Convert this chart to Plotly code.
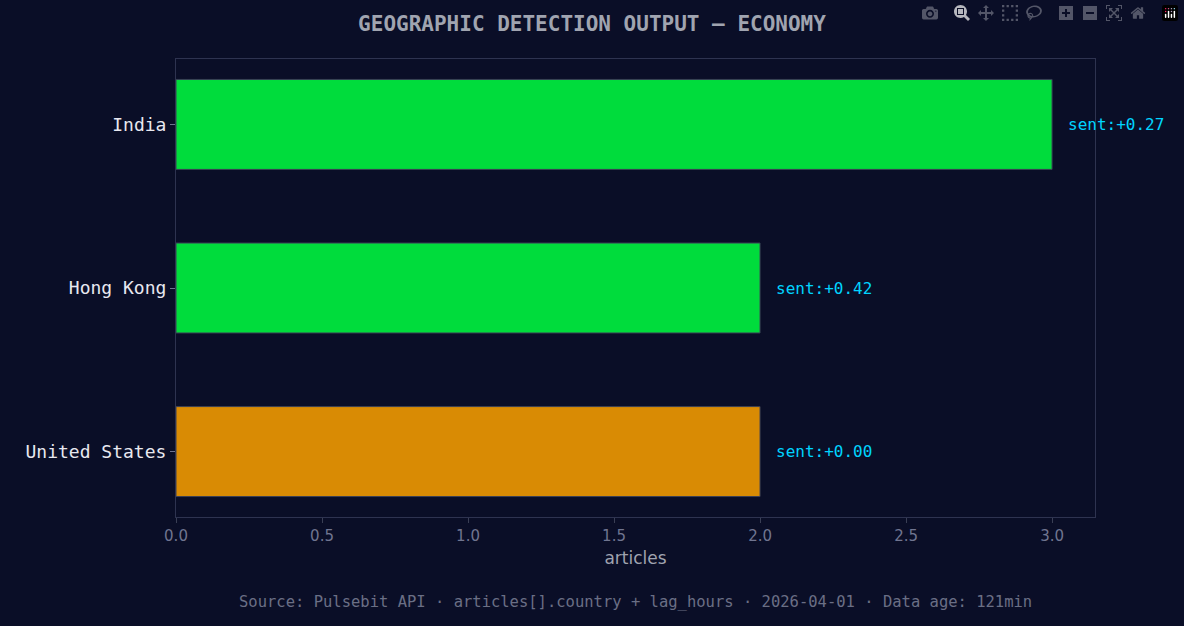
import plotly.graph_objects as go

countries = ["United States", "Hong Kong", "India"]
articles = [2, 2, 3]
sentiment = [0.00, 0.42, 0.27]
colors = ["#d98b04", "#00dc3c", "#00dc3c"]

fig = go.Figure(go.Bar(
    x=articles, y=countries, orientation="h", width=0.55,
    marker=dict(color=colors, line=dict(color="#3a3f55", width=1)),
    hoverinfo="skip"))

for c, a, s in zip(countries, articles, sentiment):
    fig.add_annotation(x=a, y=c, text=f"sent:{s:+.2f}", showarrow=False,
                       xanchor="left", xshift=14,
                       font=dict(family="DejaVu Sans Mono", size=16, color="#00d4ff"))

fig.update_layout(
    width=1184, height=626,
    paper_bgcolor="#0a0e27", plot_bgcolor="#0a0e27",
    margin=dict(l=176, r=89, t=59, b=109),
    title=dict(text="<b>GEOGRAPHIC DETECTION OUTPUT — ECONOMY</b>", x=0.5, y=0.962,
               xanchor="center", yanchor="middle",
               font=dict(family="DejaVu Sans Mono", size=21, color="#a0a4b0")),
    showlegend=False,
    xaxis=dict(range=[0, 3.147], dtick=0.5, tickformat=".1f", showgrid=False, zeroline=False,
               ticks="outside", ticklen=5, tickcolor="#3a3f55",
               showline=True, linecolor="#2e3350", mirror=True,
               tickfont=dict(family="DejaVu Sans", size=15, color="#707590"),
               title=dict(text="articles", font=dict(family="DejaVu Sans", size=17, color="#a0a4b0"), standoff=8)),
    yaxis=dict(range=[-0.4, 2.4], showgrid=False, zeroline=False,
               ticks="outside", ticklen=5, tickcolor="#707590",
               showline=True, linecolor="#2e3350", mirror=True,
               tickfont=dict(family="DejaVu Sans Mono", size=18, color="#e8e8f0")),
)
fig.add_annotation(text="Source: Pulsebit API · articles[].country + lag_hours · 2026-04-01 · Data age: 121min",
                   xref="paper", yref="paper", x=0.5, xanchor="center",
                   y=-0.185, yanchor="middle", showarrow=False,
                   font=dict(family="DejaVu Sans Mono", size=15.5, color="#6a6f85"))
fig.write_html("out.html")
with open("out.html", encoding="utf-8") as f:
    html = f.read()
html = html.replace("<body>", '<body style="margin:0;background:#0a0e27">', 1)
with open("out.html", "w", encoding="utf-8") as f:
    f.write(html)
